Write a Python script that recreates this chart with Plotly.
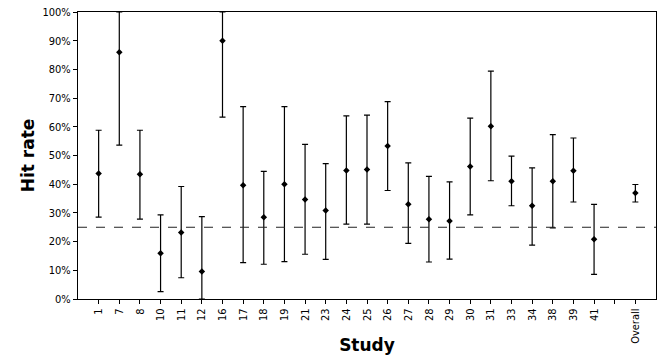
import plotly.graph_objects as go

studies = ["1", "7", "8", "10", "11", "12", "16", "17", "18", "19", "21", "23", "24",
           "25", "26", "27", "28", "29", "30", "31", "33", "34", "38", "39", "41", "Overall"]
hit_rate = [43.7, 86, 43.5, 15.9, 23.2, 9.6, 90, 39.6, 28.5, 40, 34.7, 30.8, 44.8,
            45.1, 53.3, 33, 27.8, 27.2, 46.2, 60.2, 41, 32.5, 41, 44.7, 20.8, 36.9]
upper = [58.8, 100, 58.8, 29.3, 39.2, 28.7, 100, 67, 44.5, 67, 53.9, 47.2, 63.8,
         64.1, 68.8, 47.4, 42.7, 40.8, 63, 79.4, 49.8, 45.7, 57.3, 56.1, 33, 39.9]
lower = [28.5, 53.6, 27.8, 2.6, 7.4, 0, 63.4, 12.7, 12.1, 13, 15.6, 13.8, 26.1,
         26.1, 37.8, 19.4, 12.9, 13.9, 29.3, 41.2, 32.5, 18.8, 24.8, 33.8, 8.6, 33.8]
chance_level = 25

# category order, with an empty slot before "Overall"
cat_order = studies[:-1] + [" "] + ["Overall"]

err_plus = [u - h for u, h in zip(upper, hit_rate)]
err_minus = [h - l for h, l in zip(hit_rate, lower)]

font_tick = "Liberation Sans Narrow, DejaVu Sans Condensed, Arial Narrow, sans-serif"

fig = go.Figure()
fig.add_trace(go.Scatter(
    x=studies, y=hit_rate, mode="markers",
    marker=dict(symbol="diamond", size=5, color="black"),
    error_y=dict(type="data", symmetric=False, array=err_plus, arrayminus=err_minus,
                 color="black", thickness=1.2, width=3),
    showlegend=False, cliponaxis=False,
))

fig.add_shape(type="line", xref="paper", x0=0, x1=1, yref="y", y0=chance_level, y1=chance_level,
              line=dict(color="#222", width=1, dash="dash"))

fig.update_layout(
    width=664, height=355,
    margin=dict(l=78, r=8, t=12, b=56),
    paper_bgcolor="white", plot_bgcolor="white",
    font=dict(family=font_tick, color="black", size=11),
)
fig.update_xaxes(
    type="category", categoryorder="array", categoryarray=cat_order,
    range=[-1, len(cat_order)],
    tickangle=-90, ticks="outside", ticklen=4, tickcolor="black",
    showline=True, linecolor="black", linewidth=1.2, mirror=True,
    showgrid=False, zeroline=False, automargin=False,
    tickfont=dict(size=11, family=font_tick),
    title=dict(text="<b>Study</b>", font=dict(size=17, family="DejaVu Sans, sans-serif"), standoff=2),
)
fig.update_yaxes(
    range=[0, 100], tickvals=list(range(0, 101, 10)),
    ticktext=[f"{v}%" for v in range(0, 101, 10)],
    ticks="outside", ticklen=4, tickcolor="black",
    showline=True, linecolor="black", linewidth=1.2, mirror=True,
    showgrid=False, zeroline=False, automargin=False,
    tickfont=dict(size=11, family=font_tick),
    title=dict(text="<b>Hit rate</b>", font=dict(size=17, family="DejaVu Sans, sans-serif"), standoff=3),
)

fig.write_html("out.html")
